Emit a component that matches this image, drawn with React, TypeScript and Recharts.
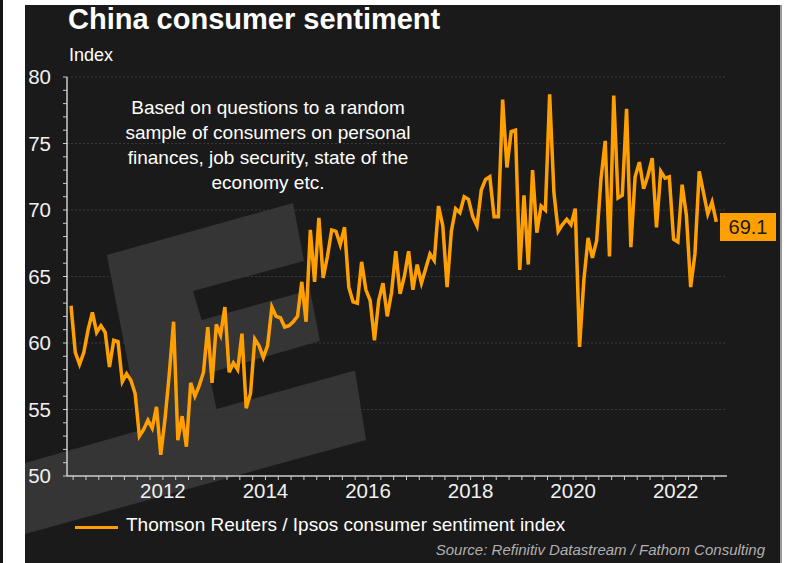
import React from 'react';
import { LineChart, Line, XAxis, YAxis, ReferenceLine } from 'recharts';

// monthly readings, Mar 2010 .. Oct 2022
const sentiment = [
  62.8, 59.3, 58.4, 59.3, 61.0, 62.3, 60.8, 61.3, 60.8, 58.2,
  60.2, 60.1, 57.1, 57.7, 57.2, 56.2, 53.0, 53.5, 54.2, 53.6,
  55.2, 51.6, 54.3, 57.7, 61.6, 52.7, 54.5, 52.2, 57.0, 56.0,
  56.8, 57.8, 61.2, 57.0, 61.4, 60.6, 62.7, 57.8, 58.5, 58.0,
  60.7, 55.1, 56.2, 60.3, 59.8, 58.9, 59.8, 62.7, 62.0, 61.9,
  61.2, 61.3, 61.6, 62.0, 64.6, 61.6, 68.5, 64.6, 69.4, 64.9,
  66.5, 68.5, 68.4, 67.4, 68.7, 64.2, 63.1, 63.0, 66.1, 64.0,
  63.2, 60.2, 63.2, 64.5, 62.0, 63.8, 66.9, 63.7, 65.0, 66.9,
  64.0, 65.9, 64.5, 65.6, 66.7, 66.2, 70.3, 68.8, 64.2, 68.4,
  70.1, 69.8, 71.0, 70.8, 69.5, 68.8, 71.5, 72.3, 72.5, 69.5,
  69.5, 78.3, 73.2, 75.9, 76.0, 65.5, 71.1, 65.9, 73.0, 68.3,
  70.3, 70.0, 78.7, 71.3, 68.4, 68.9, 69.3, 68.9, 70.1, 59.7,
  64.7, 67.9, 66.4, 67.7, 72.3, 75.2, 66.5, 78.6, 70.9, 71.1,
  77.6, 67.2, 72.5, 73.6, 71.6, 72.6, 73.9, 68.7, 72.9, 72.4,
  72.5, 67.8, 67.6, 71.9, 69.6, 64.2, 66.7, 72.9, 71.3, 69.7,
  70.6, 69.1,
];

const yTicks = Array.from({ length: 31 }, (_, i) => 50 + i);
const gridValues = [55, 60, 65, 70, 75, 80];
const xTicks = Array.from({ length: 51 }, (_, i) => 2010.25 + i * 0.25);

// first reading is March 2010, plotted mid-month
const data = sentiment.map((value, i) => ({ t: 2010 + (i + 2.5) / 12, value }));
const lastValue = sentiment[sentiment.length - 1];

const FONT = '"Liberation Sans", Arial, sans-serif';
const ORANGE = '#ffa000';

const watermark =
  '106.8,255 293,203 304,261 193,291 201.7,320 310,290 320,341 209,373 216.5,409 355,370.5 366,440 25,534 25,463 141,430';

export default function App() {
  return (
    <div style={{ position: 'absolute', left: 0, top: 0, width: 793, height: 563, background: '#ffffff', overflow: 'hidden', fontFamily: FONT }}>
      <div style={{ position: 'absolute', left: 0, top: 0, width: 3, height: 563, background: '#141414' }} />
      <div style={{ position: 'absolute', left: 25, top: 5, width: 755, height: 558, background: '#1a1a1a' }} />
      <div style={{ position: 'absolute', left: 780, top: 5, width: 2, height: 558, background: '#9a9a9a' }} />
      <svg width={793} height={563} style={{ position: 'absolute', left: 0, top: 0 }}>
        <polygon points={watermark} fill="#353535" />
      </svg>

      <div style={{ position: 'absolute', left: 68, top: 5, fontSize: 29, fontWeight: 700, color: '#ffffff', lineHeight: 1, whiteSpace: 'nowrap' }}>
        China consumer sentiment
      </div>
      <div style={{ position: 'absolute', left: 69, top: 46, fontSize: 18, color: '#ffffff', lineHeight: 1 }}>Index</div>

      <div style={{ position: 'absolute', left: 0, top: 0 }}>
        <LineChart width={793} height={563} data={data} margin={{ top: 77, right: 66, bottom: 57, left: 0 }}>
          {gridValues.map((g) => (
            <ReferenceLine key={g} y={g} stroke="#3a3a3a" strokeDasharray="2 2" />
          ))}
          <XAxis
            dataKey="t"
            type="number"
            domain={[2010.13, 2023]}
            ticks={xTicks}
            interval={0}
            height={30}
            tickFormatter={(v: number) => (Number.isInteger(v) && v % 2 === 0 ? String(v) : '')}
            tick={{ fill: '#f0f0f0', fontSize: 20.5, fontFamily: FONT }}
            tickSize={4}
            tickMargin={3}
            axisLine={{ stroke: '#cccccc', strokeWidth: 1.5 }}
            tickLine={{ stroke: '#cccccc' }}
          />
          <YAxis
            type="number"
            domain={[50, 80]}
            ticks={yTicks}
            interval={0}
            width={67}
            tickFormatter={(v: number) => (v % 5 === 0 ? String(v) : '')}
            tick={{ fill: '#f0f0f0', fontSize: 20.5, fontFamily: FONT }}
            tickSize={4}
            tickMargin={12}
            axisLine={{ stroke: '#cccccc', strokeWidth: 1.5 }}
            tickLine={{ stroke: '#cccccc' }}
          />
          <Line
            type="linear"
            dataKey="value"
            stroke={ORANGE}
            strokeWidth={3.5}
            dot={false}
            isAnimationActive={false}
          />
        </LineChart>
      </div>

      <div style={{ position: 'absolute', left: 98, top: 95, width: 340, textAlign: 'center', fontSize: 19, lineHeight: '25px', color: '#ffffff' }}>
        Based on questions to a random<br />
        sample of consumers on personal<br />
        finances, job security, state of the<br />
        economy etc.
      </div>

      <div style={{ position: 'absolute', left: 720, top: 213, width: 56, height: 28, background: ORANGE, color: '#1a1a1a', fontSize: 20, lineHeight: '28px', textAlign: 'center' }}>
        {lastValue.toFixed(1)}
      </div>

      <div style={{ position: 'absolute', left: 75, top: 526, width: 43, height: 3, background: ORANGE }} />
      <div style={{ position: 'absolute', left: 126, top: 515, fontSize: 19, lineHeight: 1, color: '#ffffff', whiteSpace: 'nowrap' }}>
        Thomson Reuters / Ipsos consumer sentiment index
      </div>
      <div style={{ position: 'absolute', right: 28, top: 542, fontSize: 15, fontStyle: 'italic', lineHeight: 1, color: '#b0b0b0', whiteSpace: 'nowrap' }}>
        Source: Refinitiv Datastream / Fathom Consulting
      </div>
    </div>
  );
}
